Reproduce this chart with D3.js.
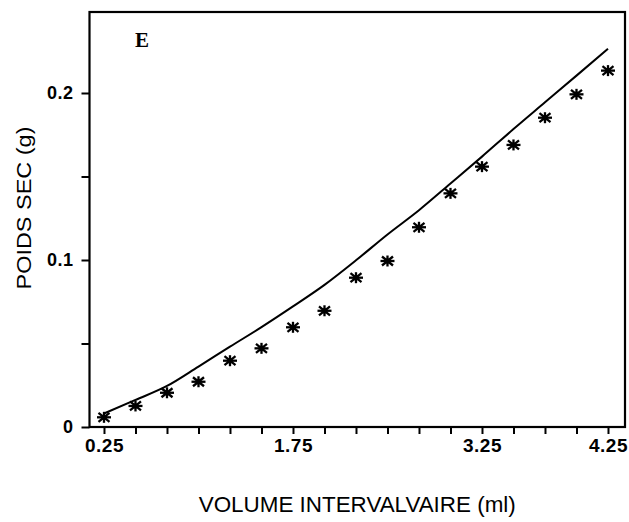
<!DOCTYPE html>
<html>
<head>
<meta charset="utf-8">
<script src="https://cdn.jsdelivr.net/npm/d3@7"></script>
<style>
  html, body { margin: 0; padding: 0; background: #fff; }
  svg { display: block; }
</style>
</head>
<body>
<svg id="chart" width="629" height="522"></svg>
<script>
// Volume intervalvaire (ml) – measured points
const volume = [0.25, 0.5, 0.75, 1.0, 1.25, 1.5, 1.75, 2.0, 2.25, 2.5, 2.75, 3.0, 3.25, 3.5, 3.75, 4.0, 4.25];
// Poids sec (g) – observed values (asterisks)
const poidsObserve = [0.0058, 0.0126, 0.0205, 0.0271, 0.0397, 0.0471, 0.0597, 0.0696, 0.0894, 0.0994, 0.1196, 0.1399, 0.1559, 0.1689, 0.1852, 0.1992, 0.2134];
// Poids sec (g) – fitted curve
const poidsAjuste = [0.0081, 0.0162, 0.0246, 0.0362, 0.0481, 0.0598, 0.0722, 0.0851, 0.0998, 0.1153, 0.1298, 0.1458, 0.1619, 0.1784, 0.1944, 0.2104, 0.2265];

const xTicks = [0.25, 0.5, 0.75, 1.0, 1.25, 1.5, 1.75, 2.0, 2.25, 2.5, 2.75, 3.0, 3.25, 3.5, 3.75, 4.0, 4.25];
const xTickLabels = ["0.25", "1.75", "3.25", "4.25"];
const yTicks = [0, 0.05, 0.1, 0.15, 0.2];
const yTickLabels = ["0", "0.1", "0.2"];

const panelLabel = "E";
const xTitle = "VOLUME INTERVALVAIRE (ml)";
const yTitle = "POIDS SEC (g)";

const svg = d3.select("#chart");
const plotLeft = 89.5, plotRight = 625, plotTop = 12, plotBottom = 427;

const x = d3.scaleLinear().domain([0.135, 4.385]).range([plotLeft, plotRight]);
const y = d3.scaleLinear().domain([0, 0.2485]).range([plotBottom, plotTop]);

const labelFont = "'Liberation Sans', Arial, sans-serif";

// frame
svg.append("rect")
  .attr("x", plotLeft).attr("y", plotTop)
  .attr("width", plotRight - plotLeft).attr("height", plotBottom - plotTop)
  .attr("fill", "none").attr("stroke", "#000").attr("stroke-width", 2.2);

// bottom axis
const xAxis = d3.axisBottom(x)
  .tickValues(xTicks)
  .tickSize(7)
  .tickPadding(5)
  .tickFormat(d => {
    const s = d.toFixed(2);
    return xTickLabels.includes(s) ? s : "";
  });
const gx = svg.append("g").attr("transform", `translate(0,${plotBottom})`).call(xAxis);
gx.select(".domain").remove();
gx.selectAll(".tick line").attr("stroke", "#000").attr("stroke-width", 2);
gx.selectAll(".tick text")
  .attr("fill", "#000")
  .style("font-family", labelFont)
  .style("font-size", "19px")
  .style("font-weight", "bold")
  .style("letter-spacing", "0.5px");

// left axis
const yAxis = d3.axisLeft(y)
  .tickValues(yTicks)
  .tickSize(8)
  .tickPadding(8)
  .tickFormat(d => {
    const s = d === 0 ? "0" : String(+d.toFixed(2));
    return yTickLabels.includes(s) ? s : "";
  });
const gy = svg.append("g").attr("transform", `translate(${plotLeft},0)`).call(yAxis);
gy.select(".domain").remove();
gy.selectAll(".tick line").attr("stroke", "#000").attr("stroke-width", 2);
gy.selectAll(".tick text")
  .attr("fill", "#000")
  .style("font-family", labelFont)
  .style("font-size", "18px")
  .style("font-weight", "bold")
  .style("letter-spacing", "0.5px");

// fitted curve
const line = d3.line()
  .x((d, i) => x(volume[i]))
  .y(d => y(d))
  .curve(d3.curveMonotoneX);
svg.append("path")
  .datum(poidsAjuste)
  .attr("d", line)
  .attr("fill", "none")
  .attr("stroke", "#000")
  .attr("stroke-width", 2);

// asterisk markers
const star = svg.append("g").selectAll("g")
  .data(poidsObserve)
  .join("g")
  .attr("transform", (d, i) => `translate(${x(volume[i])},${y(d)})`);
const arms = [[-7, 0, 7, 0], [0, -5.5, 0, 5.5], [-5.5, -4.5, 5.5, 4.5], [-5.5, 4.5, 5.5, -4.5]];
arms.forEach(a => {
  star.append("line")
    .attr("x1", a[0]).attr("y1", a[1]).attr("x2", a[2]).attr("y2", a[3])
    .attr("stroke", "#000").attr("stroke-width", 2.3);
});
star.append("circle").attr("r", 2.8).attr("fill", "#000");

// panel letter
svg.append("text")
  .attr("x", x(0.25) + 31).attr("y", 47)
  .style("font-family", "'Liberation Serif', 'Times New Roman', serif")
  .style("font-size", "21px")
  .style("font-weight", "bold")
  .text(panelLabel);

// axis titles
svg.append("text")
  .attr("x", (plotLeft + plotRight) / 2).attr("y", 512)
  .attr("text-anchor", "middle")
  .attr("textLength", 317)
  .attr("lengthAdjust", "spacingAndGlyphs")
  .style("font-family", labelFont)
  .style("font-size", "22px")
  .text(xTitle);

svg.append("text")
  .attr("transform", "translate(31,208) rotate(-90)")
  .attr("text-anchor", "middle")
  .attr("textLength", 163)
  .attr("lengthAdjust", "spacingAndGlyphs")
  .style("font-family", labelFont)
  .style("font-size", "21px")
  .text(yTitle);
</script>
</body>
</html>
